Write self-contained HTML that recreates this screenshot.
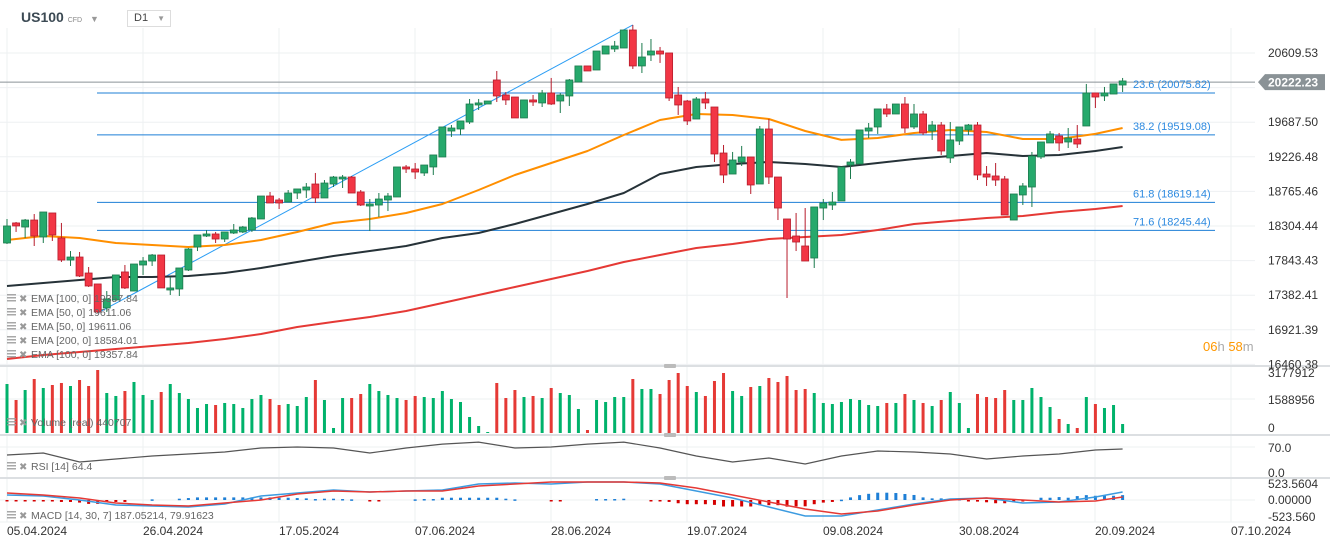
<!DOCTYPE html>
<html><head><meta charset="utf-8">
<style>
html,body{margin:0;padding:0;background:#fff;width:1330px;height:548px;overflow:hidden;font-family:"Liberation Sans",sans-serif}
#wrap{position:relative;width:1330px;height:548px}
svg{position:absolute;left:0;top:0}
.hdr{position:absolute;font-family:"Liberation Sans",sans-serif}
</style></head>
<body>
<div id="wrap">
<svg id="chart" width="1330" height="548"></svg>
<div class="hdr" style="left:21px;top:9px;font-size:14px;font-weight:bold;color:#3c4a54">US100 <span style="font-size:7px;color:#888;font-weight:normal">CFD</span> <span style="font-size:9px;color:#999;margin-left:4px">▼</span></div>
<div class="hdr" style="left:127px;top:10px;width:42px;height:15px;border:1px solid #ddd;font-size:11px;color:#444;line-height:15px"><span style="margin-left:6px">D1</span><span style="font-size:8px;color:#999;position:absolute;right:5px">▼</span></div>
</div>
<script>
// ---------- DATA ----------
const dates = ["05.04.2024","26.04.2024","17.05.2024","07.06.2024","28.06.2024","19.07.2024","09.08.2024","30.08.2024","20.09.2024","07.10.2024"];
const priceTicks = [20609.53,20148.51,19687.50,19226.48,18765.46,18304.44,17843.43,17382.41,16921.39,16460.38];
const opens = [18078,18345,18291,18384,18158,18478,18145,17851,17891,17678,17532,17212,17319,17692,17438,17785,17838,17918,17452,17465,17718,18025,18171,18198,18131,18211,18225,18251,18398,18704,18651,18624,18744,18784,18864,18678,18864,18931,18957,18758,18571,18584,18651,18691,19091,19064,19011,19091,19224,19570,19597,19690,19917,19930,20250,20050,20023,19744,19984,19944,20077,19970,20037,20223,20437,20383,20596,20663,20676,20916,20437,20583,20636,20610,20050,19970,19730,19997,19890,19277,18997,19157,19224,18864,19597,18957,18398,18171,18038,17878,18544,18584,18638,19117,19131,19570,19624,19864,19797,19930,19624,19797,19570,19650,19211,19437,19584,19650,18997,18971,18931,18384,18718,18824,19224,19411,19504,19424,19464,19637,20077,20037,20063,20183];
const highs = [18398,18358,18398,18464,18491,18478,18345,17971,17958,17758,17532,17438,17652,17785,17798,17891,17931,17918,17625,17745,18011,18185,18251,18225,18225,18331,18305,18424,18704,18758,18678,18784,18798,18877,19011,18917,18971,18984,18971,18784,18664,18744,18744,19091,19117,19144,19117,19251,19624,19650,19704,19997,19997,19970,20370,20090,20023,19984,20050,20117,20277,20077,20263,20437,20437,20636,20703,20770,20916,20983,20743,20796,20690,20610,20157,19984,20023,20090,19890,19384,19291,19371,19224,19637,19730,18957,18398,18478,18544,18558,18664,18758,19091,19197,19584,19677,19864,19930,19930,20023,19930,19837,19704,19690,19690,19624,19664,19690,19104,19144,18971,18731,18877,19291,19424,19570,19544,19610,19650,20197,20077,20157,20197,20277];
const lows = [18065,18225,18145,18038,18078,18105,17825,17772,17625,17492,17145,17159,17305,17465,17438,17652,17772,17479,17385,17372,17705,17971,18158,18078,18091,18198,18211,18225,18398,18611,18531,18624,18664,18678,18611,18678,18824,18811,18744,18571,18238,18424,18504,18691,19011,18931,18971,18984,19224,19491,19517,19664,19850,19930,19957,19917,19744,19744,19904,19890,19917,19810,19904,20223,20370,20383,20596,20623,20676,20397,20343,20503,20477,19970,19784,19650,19730,19864,19157,18877,18997,19104,18731,18864,18864,18384,17345,17971,17838,17745,18384,18518,18638,18931,19131,19477,19531,19757,19797,19544,19597,19517,19451,19251,19144,19384,19517,18917,18838,18838,18451,18384,18584,18558,19197,19411,19304,19344,19344,19637,19877,19970,20063,20090];
const closes = [18305,18305,18384,18171,18491,18185,17851,17891,17638,17505,17159,17332,17652,17479,17798,17838,17918,17479,17479,17745,17998,18185,18198,18131,18225,18251,18291,18411,18704,18611,18611,18744,18798,18824,18678,18877,18957,18957,18744,18584,18598,18664,18704,19091,19064,19024,19117,19251,19624,19610,19704,19930,19944,19970,20037,19984,19744,19984,19957,20077,19930,20050,20250,20437,20370,20636,20703,20703,20916,20437,20556,20636,20596,20010,19917,19704,19997,19944,19264,18984,19184,19224,18851,19597,18957,18544,18131,18091,17838,18558,18611,18624,19091,19157,19584,19610,19864,19797,19930,19610,19797,19544,19650,19304,19451,19624,19650,18984,18957,18917,18451,18731,18838,19237,19424,19531,19411,19477,19397,20077,20023,20077,20197,20237];
const volumes = [2310,1556,2027,2546,2122,2263,2358,2216,2499,2216,2970,1886,1745,1980,2405,1792,1556,1933,2310,1886,1603,1179,1367,1320,1415,1367,1179,1603,1792,1603,1320,1367,1273,1697,2499,1556,236,1650,1650,1839,2310,1980,1792,1650,1556,1745,1697,1650,1980,1603,1462,754,330,47,2358,1650,2027,1697,1745,1650,2122,1886,1792,1132,141,1556,1462,1697,1697,2546,2075,2075,1839,2499,2829,2216,1933,1745,2452,2829,1980,1745,2169,2216,2593,2405,2688,2027,2075,1886,1415,1367,1462,1603,1556,1320,1273,1415,1415,1839,1556,1415,1273,1556,1933,1415,236,1839,1697,1650,2027,1556,1556,2122,1697,1226,660,424,236,1697,1367,1179,1320,424];
const emaIdx = [0,4,8,12,16,20,24,28,32,36,40,44,48,52,56,60,64,68,72,76,80,84,88,92,96,100,104,108,112,116,120,123];
const ema50 = [18118,18171,18145,18078,18051,18025,18051,18118,18225,18345,18398,18478,18598,18784,18984,19144,19304,19517,19717,19797,19784,19730,19570,19451,19477,19544,19584,19557,19464,19464,19531,19610];
const ema100 = [17505,17545,17585,17625,17625,17638,17678,17745,17825,17905,17971,18038,18145,18211,18331,18464,18598,18744,18997,19091,19131,19157,19131,19091,19144,19197,19237,19277,19237,19251,19304,19357];
const ema200 = [16532,16586,16626,16666,16706,16746,16799,16866,16959,17026,17092,17172,17279,17385,17492,17598,17705,17825,17918,18011,18065,18131,18158,18185,18251,18331,18371,18411,18438,18491,18531,18571];
const rsiVals = [48.4,53.8,29.6,37.7,45.7,51.1,56.5,67.3,70,67.3,53.8,67.3,78,83.4,67.3,70,78,83.4,67.3,45.7,29.6,40.4,24.2,45.7,59.2,56.5,51.1,37.7,45.7,51.1,61.9,64.6];
const macdVals = [154,123,0,-154,-185,-216,-123,123,216,308,246,277,308,493,524,493,554,554,493,277,62,-216,-493,-493,-308,-123,31,62,-92,-62,92,246];
const signalVals = [216,154,62,-92,-154,-185,-92,0,185,277,246,277,277,431,493,554,554,554,524,370,154,-62,-277,-431,-339,-154,0,62,0,-62,-31,92];
const histVals = [-40,-40,-40,-40,-40,-40,-60,-60,-80,-120,-120,-60,-60,-60,0,0,20,0,0,40,60,80,80,80,80,80,80,80,80,80,70,70,60,50,30,40,40,30,20,0,-30,-30,0,0,0,20,30,30,70,70,70,70,70,70,70,40,20,0,0,0,-20,-20,0,0,0,30,30,30,40,0,0,-20,-20,-60,-100,-130,-130,-130,-150,-200,-200,-200,-200,-160,-160,-160,-205,-195,-195,-130,-80,-60,10,80,150,190,225,225,215,185,155,80,50,50,30,30,-30,-50,-70,-100,-100,-70,-30,0,70,70,90,70,120,150,130,150,130,150];
const fibLevels = [20075.82,19519.08,18619.14,18245.44];
const fibNames = ["23.6","38.2","61.8","71.6"];
const volTicks = ["3177912","1588956","0"];
const lastPrice = 20222.23;

// ---------- SCALES ----------
const NS="http://www.w3.org/2000/svg";
const svg=document.getElementById('chart');
const xOf=i=>7+9.07*i;
const yP=p=>53+(20609.53-p)/461.02*34.6;
const VOL_BASE=433, yV=v=>VOL_BASE-v*1000/1588956*33.7;
const yR=v=>473-v*0.371;
const yM=v=>500-v/523.56*17;
function el(t,a,parent){const e=document.createElementNS(NS,t);for(const k in a)e.setAttribute(k,a[k]);(parent||svg).appendChild(e);return e;}
function txt(x,y,s,a){const e=el('text',Object.assign({x:x,y:y,'font-family':'Liberation Sans, sans-serif','font-size':12,fill:'#333'},a||{}));e.textContent=s;return e;}

// grid
const gv=el('g',{});


for(let k=0;k<dates.length;k++){const x=7+136*k;el('line',{x1:x,y1:28,x2:x,y2:522,stroke:'#eef0f2','stroke-width':1},gv);}
priceTicks.forEach(p=>{el('line',{x1:0,y1:yP(p),x2:1255,y2:yP(p),stroke:'#eef0f2'},gv);});
[399,447,500].forEach(y=>el('line',{x1:0,y1:y,x2:1255,y2:y,stroke:'#eef0f2'},gv));
el('line',{x1:0,y1:522,x2:1255,y2:522,stroke:'#eef0f2'},gv);
// separators
[366,435,478].forEach(y=>{const s=el('line',{x1:0,y1:y,x2:1330,y2:y,stroke:'#dcdfe2','stroke-width':2});


el('rect',{x:664,y:y-2,width:12,height:4,fill:'#bbb',rx:1});});

// price axis labels
priceTicks.forEach((p,k)=>{if(k===1)return;const t=txt(1268,yP(p)+4,p.toFixed(2),{'font-size':12});

});

// current price line
const cl=el('line',{x1:0,y1:yP(lastPrice),x2:1255,y2:yP(lastPrice),stroke:'#8a9296','stroke-width':1});



// fib lines
fibLevels.forEach((f,k)=>{const g=el('g',{});


el('line',{x1:97,y1:yP(f),x2:1215,y2:yP(f),stroke:'#1e7fd6','stroke-width':1},g);
txt(1133,yP(f)-5,fibNames[k]+' ('+f.toFixed(2)+')',{fill:'#2d8ae0','font-size':11},g);});

// trendline
const tl=el('line',{x1:xOf(10),y1:yP(lows[10]),x2:xOf(69),y2:yP(highs[69]),stroke:'#2a9df4','stroke-width':1});



// EMAs
function emaPath(arr,color,name,w){const pts=arr.map((v,k)=>xOf(emaIdx[k]).toFixed(1)+','+yP(v).toFixed(1)).join(' ');
const p=el('polyline',{points:pts,fill:'none',stroke:color,'stroke-width':w,'stroke-linejoin':'round'});

}
emaPath(ema200,'#e53935','ema-200-line',2);
emaPath(ema100,'#263238','ema-100-line',2);
emaPath(ema50,'#ff8f00','ema-50-line',2);

// candles
const cg=el('g',{});


for(let i=0;i<opens.length;i++){
 const up=closes[i]>=opens[i];const x=xOf(i);
 const fill=up?'#26a96c':'#f23645',stroke=up?'#1b7a4d':'#b71c2c';
 const g=el('g',{},cg);
 
 
 el('line',{x1:x,y1:yP(highs[i]),x2:x,y2:yP(lows[i]),stroke:stroke,'stroke-width':1},g);
 const t=Math.min(yP(opens[i]),yP(closes[i])),h=Math.max(1.5,Math.abs(yP(opens[i])-yP(closes[i])));
 el('rect',{x:x-3.5,y:t,width:7,height:h,fill:fill,stroke:stroke,'stroke-width':0.8},g);
}

// volume
const vg=el('g',{});


volumes.forEach((v,i)=>{const up=closes[i]>=opens[i];const y=yV(v);
const b=el('rect',{x:xOf(i)-1.5,y:y,width:3,height:VOL_BASE-y,fill:up?'#00b26b':'#e53935'},vg);

});
volTicks.forEach((s,k)=>{const t=txt(1268,[377,404,432][k],s);

});

// RSI
const rp=el('polyline',{points:rsiVals.map((v,k)=>xOf(emaIdx[k]).toFixed(1)+','+yR(v).toFixed(1)).join(' '),fill:'none',stroke:'#555','stroke-width':1.2});


[['70.0',452],['0.0',477]].forEach(a=>{const t=txt(1268,a[1],a[0]);

});

// MACD
const hg=el('g',{});


histVals.forEach((v,i)=>{if(v===0)return;const y0=yM(0),y1=yM(v);
el('rect',{x:xOf(i)-1.5,y:Math.min(y0,y1),width:3,height:Math.max(1.5,Math.abs(y1-y0)),fill:v>0?'#1e7fd6':'#d50000'},hg);});
const mp=el('polyline',{points:macdVals.map((v,k)=>xOf(emaIdx[k]).toFixed(1)+','+yM(v).toFixed(1)).join(' '),fill:'none',stroke:'#3c9be0','stroke-width':1.5});


const sp=el('polyline',{points:signalVals.map((v,k)=>xOf(emaIdx[k]).toFixed(1)+','+yM(v).toFixed(1)).join(' '),fill:'none',stroke:'#e53935','stroke-width':1.5});


[['523.5604',488],['0.00000',504],['-523.560',521]].forEach(a=>{const t=txt(1268,a[1],a[0]);

});

// dates
dates.forEach((d,k)=>{const t=txt(7+136*k,535,d);

});

// current price badge
const bg=el('g',{});


const yc=yP(lastPrice);
el('polygon',{points:`1258,${yc} 1265,${yc-8} 1325,${yc-8} 1325,${yc+8} 1265,${yc+8}`,fill:'#8a9296'},bg);
txt(1268,yc+4.5,lastPrice.toFixed(2),{fill:'#fff','font-weight':'bold'},bg);

// countdown
const cd=txt(1203,351,'',{'font-size':13});


cd.innerHTML='<tspan fill="#ff9800">06</tspan><tspan fill="#aaa">h </tspan><tspan fill="#ff9800">58</tspan><tspan fill="#aaa">m</tspan>';

// legends
function legend(y,s,name){const g=el('g',{opacity:0.85});


el('rect',{x:7,y:y-8,width:9,height:1.5,fill:'#999'},g);el('rect',{x:7,y:y-5,width:9,height:1.5,fill:'#999'},g);el('rect',{x:7,y:y-2,width:9,height:1.5,fill:'#999'},g);
txt(19,y,'✖',{fill:'#999','font-size':10},g);
txt(31,y,s,{fill:'#666','font-size':10.5},g);}
legend(302,'EMA  [100,  0]  19357.84','legend-ema-100');
legend(316,'EMA  [50,  0]  19611.06','legend-ema-50');
legend(330,'EMA  [50,  0]  19611.06','legend-ema-50-b');
legend(344,'EMA  [200,  0]  18584.01','legend-ema-200');
legend(358,'EMA  [100,  0]  19357.84','legend-ema-100-b');
legend(426,'Volume  (real)  440707','legend-volume');
legend(470,'RSI  [14]  64.4','legend-rsi');
legend(519,'MACD  [14,  30,  7]  187.05214,   79.91623','legend-macd');
</script>
</body></html>
